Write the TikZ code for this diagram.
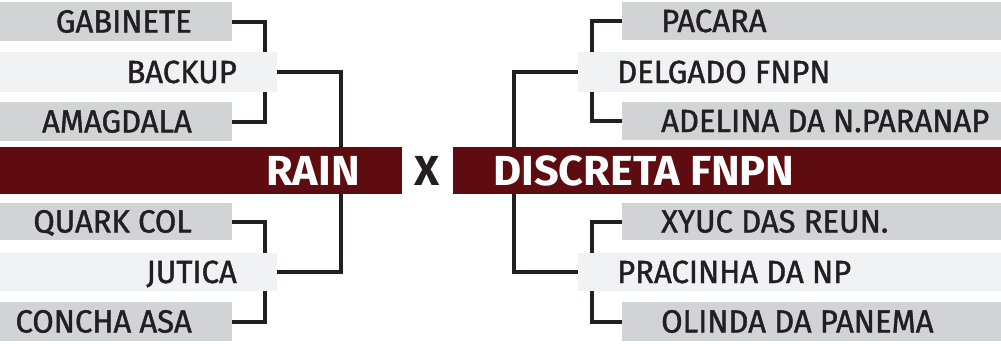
\documentclass[tikz,border=0pt]{standalone}
\usepackage{fontspec}
\setmainfont{Fira Sans}
\newfontfamily\labfont{Fira Sans}[FakeStretch=0.97, FakeBold=1.3]
\newfontfamily\bigfont{Fira Sans Bold}[FakeStretch=1.03]
\usetikzlibrary{calc}
\definecolor{barg}{HTML}{D1D3D4}
\definecolor{barl}{HTML}{F1F2F3}
\definecolor{wine}{HTML}{5E0C10}
\definecolor{ink}{HTML}{231F20}
\begin{document}
\begin{tikzpicture}[x=1pt,y=-1pt,
  bar/.style={rectangle, inner sep=0pt, outer sep=0pt, anchor=north west},
  gbar/.style={bar, fill=barg},
  lbar/.style={bar, fill=barl},
  mbar/.style={bar, fill=wine},
  lab/.style={inner sep=0pt, text=ink, font=\labfont\fontsize{32}{32}\selectfont},
  big/.style={inner sep=0pt, text=white, font=\bigfont\fontsize{42}{42}\selectfont},
  conn/.style={draw=ink, line width=4pt}]
\useasboundingbox (0,0) rectangle (1001,343);

% left bars
\node[gbar, minimum width=232pt, minimum height=39pt] (gab) at (0,2) {};
\node[lbar, minimum width=277pt, minimum height=40pt] (bak) at (0,52) {};
\node[gbar, minimum width=232pt, minimum height=39pt] (amg) at (0,102) {};
\node[mbar, minimum width=402pt, minimum height=47pt] (rain) at (0,147) {};
\node[gbar, minimum width=232pt, minimum height=37pt] (qua) at (0,203) {};
\node[lbar, minimum width=277pt, minimum height=38pt] (jut) at (0,253) {};
\node[gbar, minimum width=232pt, minimum height=39pt] (con) at (0,302) {};

% right bars
\node[gbar, minimum width=379pt, minimum height=38pt] (pac) at (622,2) {};
\node[lbar, minimum width=423pt, minimum height=40pt] (del) at (578,52) {};
\node[gbar, minimum width=379pt, minimum height=38pt] (ade) at (622,102) {};
\node[mbar, minimum width=548pt, minimum height=47pt] (dis) at (453,147) {};
\node[gbar, minimum width=379pt, minimum height=37pt] (xyu) at (622,203) {};
\node[lbar, minimum width=423pt, minimum height=38pt] (pra) at (578,253) {};
\node[gbar, minimum width=379pt, minimum height=39pt] (oli) at (622,302) {};

% left labels
\node[lab, anchor=base east] (gabt) at ($(gab.east)+(-40,11)$) {GABINETE};
\node[lab, anchor=base east] (bakt) at ($(bak.east)+(-40,11)$) {BACKUP};
\node[lab, anchor=base east] (amgt) at ($(amg.east)+(-40,11)$) {AMAGDALA};
\node[lab, anchor=base east] (quat) at ($(qua.east)+(-40,11)$) {QUARK COL};
\node[lab, anchor=base east] (jutt) at ($(jut.east)+(-40,11)$) {JUTICA};
\node[lab, anchor=base east] (cont) at ($(con.east)+(-40,11)$) {CONCHA ASA};

% right labels
\node[lab, anchor=base west] (pact) at ($(pac.west)+(39,11)$) {PACARA};
\node[lab, anchor=base west] (delt) at ($(del.west)+(39,11)$) {DELGADO FNPN};
\node[lab, anchor=base west] (adet) at ($(ade.west)+(39,11)$) {ADELINA DA N.PARANAP};
\node[lab, anchor=base west] (xyut) at ($(xyu.west)+(39,11)$) {XYUC DAS REUN.};
\node[lab, anchor=base west] (prat) at ($(pra.west)+(39,11)$) {PRACINHA DA NP};
\node[lab, anchor=base west] (olit) at ($(oli.west)+(39,11)$) {OLINDA DA PANEMA};

% finalists
\node[big, anchor=base east] (raint) at ($(rain.east)+(-42,14.5)$) {RAIN};
\node[big, anchor=base west] (dist) at ($(dis.west)+(40,14.5)$) {DISCRETA FNPN};
\node[big, text=ink, anchor=base] (vs) at (427,185) {X};

% connectors
\coordinate (lj1) at (265,0);
\coordinate (lj2) at (341,0);
\coordinate (rj1) at (592,0);
\coordinate (rj2) at (514,0);
\draw[conn] (gab.east) -| (lj1 |- bak.north);
\draw[conn] (amg.east) -| (lj1 |- bak.south);
\draw[conn] (bak.east) -| (lj2 |- rain.north);
\draw[conn] (qua.east) -| (lj1 |- jut.north);
\draw[conn] (con.east) -| (lj1 |- jut.south);
\draw[conn] (jut.east) -| (lj2 |- rain.south);
\draw[conn] (pac.west) -| (rj1 |- del.north);
\draw[conn] (ade.west) -| (rj1 |- del.south);
\draw[conn] (del.west) -| (rj2 |- dis.north);
\draw[conn] (xyu.west) -| (rj1 |- pra.north);
\draw[conn] (oli.west) -| (rj1 |- pra.south);
\draw[conn] (pra.west) -| (rj2 |- dis.south);
\end{tikzpicture}
\end{document}
